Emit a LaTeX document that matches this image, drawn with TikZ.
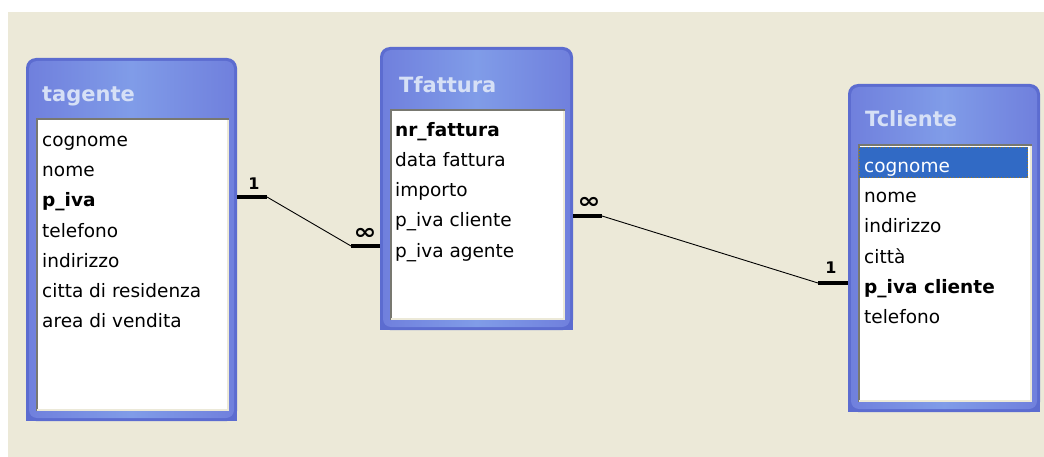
\documentclass[tikz,border=0pt]{standalone}
\usepackage{fontspec}
\setmainfont{DejaVu Sans}
\usepackage{graphicx}
\definecolor{bg}{RGB}{236,233,216}
\definecolor{frameout}{RGB}{92,108,208}
\definecolor{frameside}{RGB}{112,128,221}
\definecolor{titlemid}{RGB}{128,156,232}
\definecolor{titletxt}{RGB}{214,224,246}
\definecolor{sel}{RGB}{49,106,197}
\definecolor{shadowc}{RGB}{120,120,112}
\definecolor{focusc}{RGB}{150,120,40}
\tikzset{
  fld/.style={anchor=base west, inner sep=0pt, font=\fontsize{18.5}{20}\selectfont},
  keyfld/.style={fld, font=\fontsize{18.5}{20}\selectfont\bfseries},
  ttl/.style={anchor=base west, inner sep=0pt, text=titletxt, font=\fontsize{21}{22}\selectfont\bfseries},
  winbox/.style={inner sep=0pt, anchor=north west},
  card/.style={inner sep=0pt, font=\fontsize{16}{17}\selectfont\bfseries},
  bar/.style={line width=4pt},
  link/.style={line width=0.9pt},
}
% #1 x1, #2 y1, #3 x2, #4 y2, #5 white-area top
\newcommand{\tablewin}[5]{%
  \fill[frameout, rounded corners=10pt] (#1,#2) rectangle (#3,#4);
  \fill[frameout] (#1,#2+20) rectangle (#3,#4);
  \shade[rounded corners=8pt, left color=frameside, right color=frameside, middle color=titlemid]
     (#1+3,#2+3) rectangle (#3-3,#4-3);
  \fill[white] (#1+10,#5) rectangle (#3-8,#4-10);
  \draw[shadowc, line width=2pt] (#1+11,#4-10) -- (#1+11,#5+1) -- (#3-8,#5+1);
  \draw[bg, line width=2pt] (#1+11,#4-11) -- (#3-9,#4-11) -- (#3-9,#5+2);
}
\begin{document}
\begin{tikzpicture}[x=1pt, y=-1pt]
\useasboundingbox (0,0) rectangle (1044,457);
\fill[white] (0,0) rectangle (1044,457);
\fill[bg] (8,12) rectangle (1044,457);

% ---------- tagente ----------
\tablewin{26}{58}{237}{421}{118}
\node[winbox, minimum width=211pt, minimum height=363pt] (tagente) at (26,58) {};
\node[ttl] (tagente-title) at (42,102) {tagente};
\node[fld] (ag-cognome) at (42,147) {cognome};
\node[fld] (ag-nome) at (42,177) {nome};
\node[keyfld] (ag-piva) at (42,207) {p\_iva};
\node[fld] (ag-tel) at (42,237) {telefono};
\node[fld] (ag-ind) at (42,267) {indirizzo};
\node[fld] (ag-citta) at (42,297) {citta di residenza};
\node[fld] (ag-area) at (42,327) {area di vendita};

% ---------- Tfattura ----------
\tablewin{380}{47}{573}{330}{109}
\node[winbox, minimum width=193pt, minimum height=283pt] (tfattura) at (380,47) {};
\node[ttl] (tfattura-title) at (399,93) {Tfattura};
\node[keyfld] (fa-nr) at (395,137) {nr\_fattura};
\node[fld] (fa-data) at (395,167) {data fattura};
\node[fld] (fa-imp) at (395,197) {importo};
\node[fld] (fa-pivac) at (395,227) {p\_iva cliente};
\node[fld] (fa-pivaa) at (395,257) {p\_iva agente};

% ---------- Tcliente ----------
\tablewin{848}{84}{1040}{412}{144}
\node[winbox, minimum width=192pt, minimum height=328pt] (tcliente) at (848,84) {};
\node[ttl] (tcliente-title) at (865,127) {Tcliente};
\fill[sel] (859,147) rectangle (1028,178);
\draw[focusc, dotted, line width=1pt] (859.5,147.5) rectangle (1027.5,177.5);
\node[fld, text=white] (cl-cognome) at (864,173) {cognome};
\node[fld] (cl-nome) at (864,203) {nome};
\node[fld] (cl-ind) at (864,233) {indirizzo};
\node[fld] (cl-citta) at (864,263) {città};
\node[keyfld] (cl-piva) at (864,293) {p\_iva cliente};
\node[fld] (cl-tel) at (864,323) {telefono};

% ---------- relationship tagente -- Tfattura ----------
\coordinate (r1a) at (237,197);
\coordinate (r1b) at (267,197);
\coordinate (r1c) at (351,246);
\coordinate (r1d) at (380,246);
\draw[bar] (r1a) -- (r1b);
\draw[link] (r1b) -- (r1c);
\draw[bar] (r1c) -- (r1d);
\node[card] (r1one) at (254,184) {1};
\node[card] (r1many) at (365,234) {\fontsize{22}{22}\selectfont\scalebox{1.25}[1]{∞}};

% ---------- relationship Tfattura -- Tcliente ----------
\coordinate (r2a) at (573,216);
\coordinate (r2b) at (602,216);
\coordinate (r2c) at (818,283);
\coordinate (r2d) at (848,283);
\draw[bar] (r2a) -- (r2b);
\draw[link] (r2b) -- (r2c);
\draw[bar] (r2c) -- (r2d);
\node[card] (r2many) at (589,203) {\fontsize{22}{22}\selectfont\scalebox{1.25}[1]{∞}};
\node[card] (r2one) at (831,268) {1};
\end{tikzpicture}
\end{document}
